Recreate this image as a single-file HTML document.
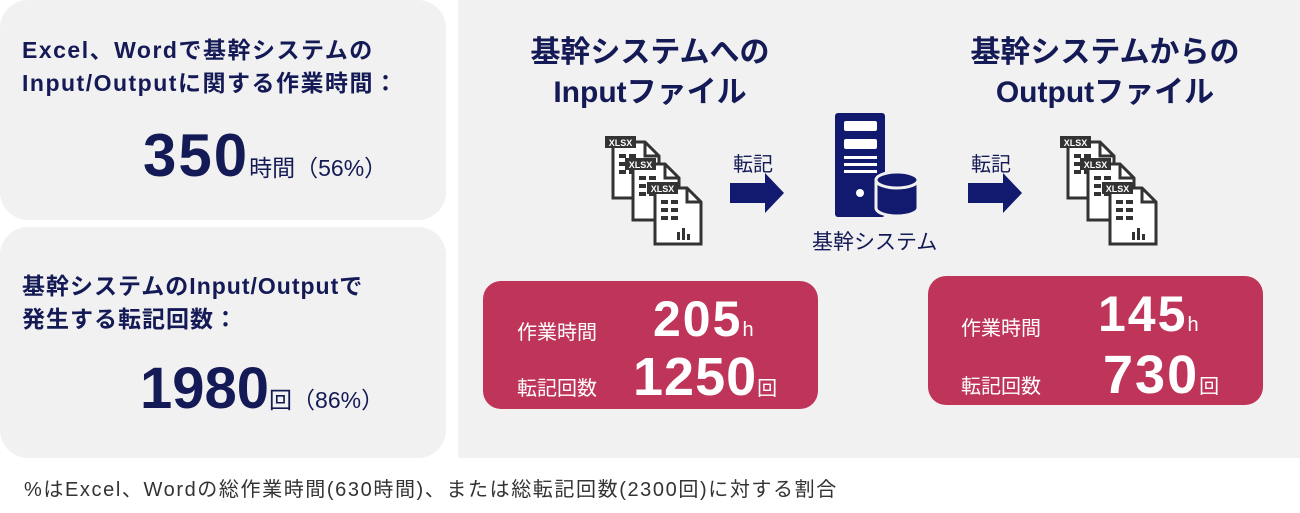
<!DOCTYPE html>
<html><head><meta charset="utf-8"><style>
body{margin:0;width:1300px;height:513px;background:#fff;position:relative;overflow:hidden;font-family:"Liberation Sans","Noto Sans CJK JP",sans-serif;color:#141a55}
.a{position:absolute}
.box{background:#f1f1f1;border-radius:28px}
.b{font-weight:bold}
.red{background:#bf3559;border-radius:18px;color:#fff}
</style></head><body>
<div class="a box" style="left:0;top:0;width:446px;height:220px"></div>
<div class="a box" style="left:0;top:227px;width:446px;height:231px"></div>
<div class="a" style="left:458px;top:0;width:842px;height:458px;background:#f1f1f1"></div>

<div class="a b" style="left:22px;top:34px;font-size:23px;line-height:33px;letter-spacing:1.5px">Excel、Wordで基幹システムの<br>Input/Outputに関する作業時間：</div>
<div class="a b" style="left:143px;top:120px;font-size:60px;line-height:72px;letter-spacing:2px">350<span style="font-size:23px;font-weight:normal;letter-spacing:0">時間（56%）</span></div>
<div class="a b" style="left:22px;top:270px;font-size:23px;line-height:33px;letter-spacing:1px">基幹システムのInput/Outputで<br>発生する転記回数：</div>
<div class="a b" style="left:140px;top:354px;font-size:58px;line-height:70px">1980<span style="font-size:23px;font-weight:normal">回（86%）</span></div>

<div class="a b" style="left:500px;top:33px;width:300px;text-align:center;font-size:30px;line-height:40px">基幹システムへの<br>Inputファイル</div>
<div class="a b" style="left:950px;top:33px;width:310px;text-align:center;font-size:30px;line-height:40px">基幹システムからの<br>Outputファイル</div>

<svg class="a" style="left:0;top:0" width="1300" height="513">
<defs><g id="doc">
<path d="M8 6 H40 L54 20 V62 H8 Z" fill="#fff" stroke="#333" stroke-width="3"/>
<path d="M40 6 V20 H54" fill="none" stroke="#333" stroke-width="3"/>
<rect x="0" y="0" width="31" height="12" fill="#333"/>
<text x="15.5" y="10" font-size="9" font-weight="bold" fill="#fff" text-anchor="middle" font-family="Liberation Sans">XLSX</text>
<g fill="#333"><rect x="14" y="18" width="7" height="4"/><rect x="24" y="18" width="7" height="4"/><rect x="14" y="26" width="7" height="4"/><rect x="24" y="26" width="7" height="4"/><rect x="14" y="34" width="7" height="4"/><rect x="24" y="34" width="7" height="4"/></g>
</g></defs>
<g transform="translate(605,136)"><use href="#doc"/><use href="#doc" x="20" y="22"/><use href="#doc" x="42" y="46"/>
<g fill="#333"><rect x="72" y="96" width="3" height="8"/><rect x="77" y="92" width="3" height="12"/><rect x="82" y="98" width="3" height="6"/></g></g>
<g transform="translate(1060,136)"><use href="#doc"/><use href="#doc" x="20" y="22"/><use href="#doc" x="42" y="46"/>
<g fill="#333"><rect x="72" y="96" width="3" height="8"/><rect x="77" y="92" width="3" height="12"/><rect x="82" y="98" width="3" height="6"/></g></g>
<polygon points="730,183 765,183 765,173 784,193 765,213 765,203 730,203" fill="#111a6e"/>
<polygon points="968,183 1003,183 1003,173 1022,193 1003,213 1003,203 968,203" fill="#111a6e"/>
<rect x="835" y="113" width="50" height="104" rx="3" fill="#111a6e"/>
<rect x="844" y="121" width="33" height="10" rx="2" fill="#fff"/>
<rect x="844" y="139" width="33" height="10" rx="2" fill="#fff"/>
<rect x="844" y="156" width="33" height="3" fill="#fff"/><rect x="844" y="163" width="33" height="3" fill="#fff"/><rect x="844" y="170" width="33" height="3" fill="#fff"/>
<circle cx="860" cy="193" r="4" fill="#fff"/>
<path d="M876 180 V208 A21 8 0 0 0 918 208 V180 Z" fill="#111a6e" stroke="#f1f1f1" stroke-width="3"/>
<ellipse cx="897" cy="180" rx="21" ry="8" fill="#111a6e" stroke="#f1f1f1" stroke-width="3"/>
</svg>
<div class="a" style="left:733px;top:148px;font-size:20px">転記</div>
<div class="a" style="left:971px;top:148px;font-size:20px">転記</div>
<div class="a" style="left:812px;top:226px;font-size:21px">基幹システム</div>

<div class="a red" style="left:483px;top:281px;width:335px;height:128px"></div>
<div class="a" style="left:517px;top:316px;font-size:20px;color:#fff">作業時間</div>
<div class="a" style="left:517px;top:372px;font-size:20px;color:#fff">転記回数</div>
<div class="a b" style="left:653px;top:290px;font-size:50px;color:#fff;line-height:58px;letter-spacing:2px">205<span style="font-size:20px;font-weight:normal">h</span></div>
<div class="a b" style="left:633px;top:345px;font-size:54px;color:#fff;line-height:64px;letter-spacing:1px">1250<span style="font-size:20px;font-weight:normal">回</span></div>

<div class="a red" style="left:928px;top:276px;width:335px;height:129px"></div>
<div class="a" style="left:961px;top:312px;font-size:20px;color:#fff">作業時間</div>
<div class="a" style="left:961px;top:370px;font-size:20px;color:#fff">転記回数</div>
<div class="a b" style="left:1098px;top:285px;font-size:50px;color:#fff;line-height:58px;letter-spacing:2px">145<span style="font-size:20px;font-weight:normal">h</span></div>
<div class="a b" style="left:1103px;top:343px;font-size:54px;color:#fff;line-height:64px;letter-spacing:2px">730<span style="font-size:20px;font-weight:normal">回</span></div>

<div class="a" style="left:24px;top:473px;font-size:20px;color:#333;letter-spacing:1.6px">%はExcel、Wordの総作業時間(630時間)、または総転記回数(2300回)に対する割合</div>
</body></html>
